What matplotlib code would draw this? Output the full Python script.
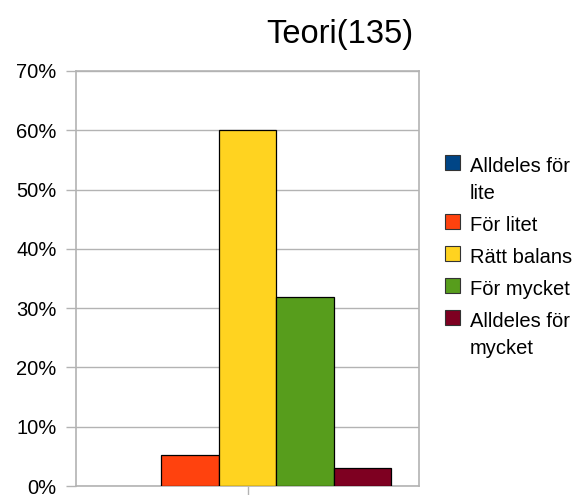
import matplotlib.pyplot as plt
from matplotlib.patches import Rectangle
from matplotlib.ticker import PercentFormatter

plt.rcParams['font.family'] = ['Liberation Sans', 'DejaVu Sans']

title = "Teori(135)"
labels = ["Alldeles för\nlite", "För litet", "Rätt balans", "För mycket", "Alldeles för\nmycket"]
counts = [0, 7, 81, 43, 4]
total = 135
colors = ["#004586", "#ff420e", "#ffd320", "#579d1c", "#7e0021"]

values = [c / total * 100 for c in counts]

W, H = 579, 495
fig = plt.figure(figsize=(W / 100, H / 100), dpi=100)
ax = fig.add_axes([76 / W, 1 - 486 / H, 343 / W, 415 / H])

w = 0.1676
n = len(values)
for i, (v, col) in enumerate(zip(values, colors)):
    # zero-height bar leaves no outline in the original
    ax.bar((i - (n - 1) / 2) * w, v, width=w, color=col, edgecolor="black",
           linewidth=0.9 if v > 0 else 0, zorder=3)

ax.set_xlim(-0.5, 0.5)
ax.set_ylim(0, 70)
ax.set_yticks(range(0, 71, 10))
ax.yaxis.set_major_formatter(PercentFormatter(decimals=0))
ax.set_xticks([0])
ax.set_xticklabels([""])
ax.tick_params(axis="both", length=7, width=1, color="#b3b3b3", labelsize=14.5, pad=7)
ax.yaxis.grid(True, color="#b3b3b3", linewidth=1, zorder=0)
for s in ax.spines.values():
    s.set_color("#b3b3b3")
    s.set_linewidth(1.2)

fig.text(339.5 / W, 1 - 43 / H, title, ha="center", va="baseline", fontsize=23.5)

# legend drawn by hand: handle aligned with the first line of a wrapped label
y = 155
for lab, col in zip(labels, colors):
    fig.patches.append(Rectangle((445 / W, 1 - (y + 15) / H), 15 / W, 15 / H,
                                 facecolor=col, edgecolor="#333333", linewidth=0.8,
                                 transform=fig.transFigure))
    lines = lab.split("\n")
    for k, line in enumerate(lines):
        fig.text(470 / W, 1 - (y + 17 + 27 * k) / H, line, ha="left", va="baseline",
                 fontsize=14.5)
    y += 32 + 27 * (len(lines) - 1)

fig.savefig("out.png", dpi=100)
